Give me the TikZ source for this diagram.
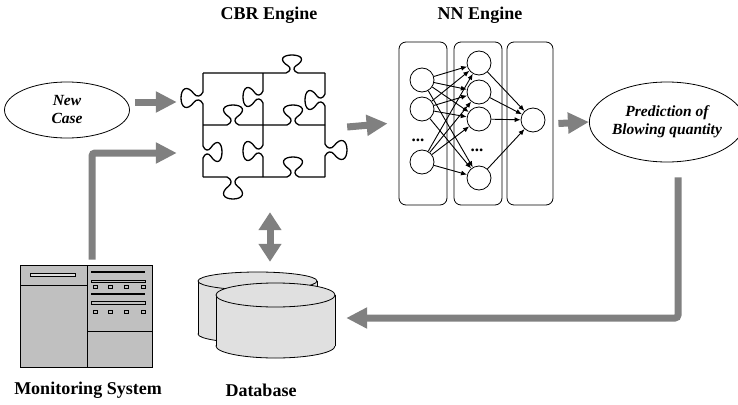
\documentclass[tikz,border=0pt]{standalone}
\usepackage{fontspec}
\setmainfont{Liberation Serif}
\usetikzlibrary{positioning,arrows.meta,calc,shapes.geometric}
\definecolor{arrgray}{HTML}{808080}
\definecolor{panelgray}{HTML}{C0C0C0}
\definecolor{dbgray}{HTML}{E0E0E0}
% jigsaw knob on a horizontal edge: centre x, edge y, signed depth
\newcommand\hknob[3]{%
  -- ({#1-6},#2) .. controls ({#1-1},{#2+0.1*(#3)}) and ({#1-1},{#2+0.3*(#3)}) .. ({#1-4},{#2+0.4*(#3)})
  .. controls ({#1-14},{#2+0.75*(#3)}) and ({#1-9},{#2+(#3)}) .. ({#1},{#2+(#3)})
  .. controls ({#1+9},{#2+(#3)}) and ({#1+14},{#2+0.75*(#3)}) .. ({#1+4},{#2+0.4*(#3)})
  .. controls ({#1+1},{#2+0.3*(#3)}) and ({#1+1},{#2+0.1*(#3)}) .. ({#1+6},#2)}
% same on a vertical edge: edge x, centre y, signed depth
\newcommand\vknob[3]{%
  -- (#1,{#2-6}) .. controls ({#1+0.1*(#3)},{#2-1}) and ({#1+0.3*(#3)},{#2-1}) .. ({#1+0.4*(#3)},{#2-4})
  .. controls ({#1+0.75*(#3)},{#2-14}) and ({#1+(#3)},{#2-9}) .. ({#1+(#3)},#2)
  .. controls ({#1+(#3)},{#2+9}) and ({#1+0.75*(#3)},{#2+14}) .. ({#1+0.4*(#3)},{#2+4})
  .. controls ({#1+0.3*(#3)},{#2+1}) and ({#1+0.1*(#3)},{#2+1}) .. (#1,{#2+6})}
\tikzset{
  fatarr/.style={-{Triangle[length=21pt,width=20pt]},line width=7pt,arrgray},
  dblarr/.style={{Triangle[length=18pt,width=22pt]}-{Triangle[length=18pt,width=22pt]},line width=7pt,arrgray},
  pzl/.style={line width=1.3pt,line join=round},
  neuron/.style={circle,draw,line width=0.8pt,minimum size=24pt,inner sep=0pt},
  layerbox/.style={draw,rounded corners=7pt,line width=0.8pt,minimum width=48pt,minimum height=163pt},
  syn/.style={-{Latex[length=6pt,width=5pt]},line width=0.9pt},
  ttl/.style={font=\fontsize{18}{20}\selectfont\bfseries},
  ovl/.style={ellipse,draw,line width=0.8pt,inner sep=0pt,align=center,
    font=\fontsize{15.5}{18}\selectfont\bfseries\itshape},
  hid/.style={inner sep=0pt},
  dots/.style={font=\fontsize{17}{17}\selectfont\bfseries},
}
\begin{document}
\begin{tikzpicture}[x=1pt,y=-1pt]
  \useasboundingbox (0,0) rectangle (738,404);
  % titles
  \node[ttl] (cbrttl) at (269,15) {CBR Engine};
  \node[ttl] (nnttl) at (480,15) {NN Engine};
  \node[ttl] (monttl) at (88,390) {Monitoring System};
  \node[ttl] (dbttl) at (261,390) {Database};

  % input / output ovals
  \node[ovl,minimum width=125pt,minimum height=56pt] (newcase) at (67,110) {New\\Case};
  \node[ovl,minimum width=140pt,minimum height=80pt] (predict) at (667,122) {Prediction of\\Blowing quantity};

  % CBR engine: 2x2 jigsaw
  \node[hid,minimum width=170pt,minimum height=146pt] (cbr) at (262,127) {};
  \draw[pzl] (203,73) \hknob{292}{73}{-18} -- (325,73);
  \draw[pzl] (203,125) \hknob{233}{125}{-20} \hknob{293}{125}{-20} -- (325,125);
  \draw[pzl] (203,177) \hknob{233}{177}{22} \hknob{293}{177}{-20} -- (325,177);
  \draw[pzl] (203,73) \vknob{203}{98}{-22} -- (203,125) \vknob{203}{152}{19} -- (203,177);
  \draw[pzl] (263,73) \vknob{263}{97}{-20} -- (263,125) \vknob{263}{151}{-20} -- (263,177);
  \draw[pzl] (325,73) \vknob{325}{100}{-20} -- (325,125) \vknob{325}{150}{22} -- (325,177);

  % NN engine: layers
  \node[layerbox] (lay1) at (423,123.5) {};
  \node[layerbox] (lay2) at (478,123.5) {};
  \node[layerbox,minimum width=46pt] (lay3) at (530,123.5) {};
  \foreach \y [count=\i] in {80,109,162} \node[neuron] (a\i) at (422,\y) {};
  \foreach \y [count=\i] in {63,92,119,178} \node[neuron] (b\i) at (479,\y) {};
  \node[neuron] (c1) at (533,120) {};
  \node[dots] (dots1) at (418,140) {...};
  \node[dots] (dots2) at (477,150) {...};
  \foreach \i in {1,2,3}
    \foreach \j in {1,...,4} \draw[syn] (a\i) -- (b\j);
  \foreach \j in {1,...,4} \draw[syn] (b\j) -- (c1);

  % monitoring system
  \node[draw,fill=panelgray,line width=1pt,minimum width=132pt,minimum height=102pt,inner sep=0pt] (monitor) at (86,316) {};
  \draw[line width=1pt] (87,265) -- (87,367) (20,285) -- (87,285) (87,331) -- (152,331);
  \draw[line width=0.6pt,fill=panelgray!50] (30,273) rectangle (75,276.5);
  \draw[line width=1.3pt] (91,272) -- (145,272) (91,294) -- (145,294);
  \draw[line width=0.6pt] (91,280) rectangle (145,282.5) (91,301.5) rectangle (145,304);
  \foreach \x in {93,108,124,141}{
    \draw[line width=0.6pt] (\x,285) rectangle +(4,3);
    \draw[line width=0.6pt] (\x,310.5) rectangle +(4,3);
  }

  % database: two cylinders, back one first
  \node[hid,minimum width=137pt,minimum height=86pt] (db) at (266.5,315) {};
  \fill[dbgray] (198,281) rectangle (317,334);
  \filldraw[fill=dbgray,line width=0.8pt] (257.5,334) ellipse (59.5pt and 9pt);
  \fill[dbgray] (198,281) rectangle (317,334);
  \draw[line width=0.8pt] (198,281) -- (198,334) (317,281) -- (317,334);
  \filldraw[fill=dbgray,line width=0.8pt] (257.5,281) ellipse (59.5pt and 9pt);
  \fill[dbgray] (216,295) rectangle (335,346);
  \filldraw[fill=dbgray,line width=0.8pt] (275.5,346) ellipse (59.5pt and 12pt);
  \fill[dbgray] (216,295) rectangle (335,346);
  \draw[line width=0.8pt] (216,295) -- (216,346) (335,295) -- (335,346);
  \filldraw[fill=dbgray,line width=0.8pt] (275.5,295) ellipse (59.5pt and 12pt);

  % data flow
  \draw[fatarr] ([xshift=5pt]newcase.east |- 0,102) -- (cbr.west |- 0,102);
  \draw[fatarr,rounded corners=3pt] ([shift={(6,-5)}]monitor.north) |- (cbr.west |- 0,153);
  \draw[fatarr] (cbr.east) -- ([xshift=-11pt]lay1.west);
  \draw[fatarr] ([xshift=5pt]lay3.east) -- (predict.west);
  \draw[fatarr,rounded corners=3pt] ([shift={(11,15)}]predict.south) |- ([shift={(11,3)}]db.east);
  \draw[dblarr] ([shift={(8,12)}]cbr.south) -- ([shift={(3.5,-10)}]db.north);
\end{tikzpicture}
\end{document}
